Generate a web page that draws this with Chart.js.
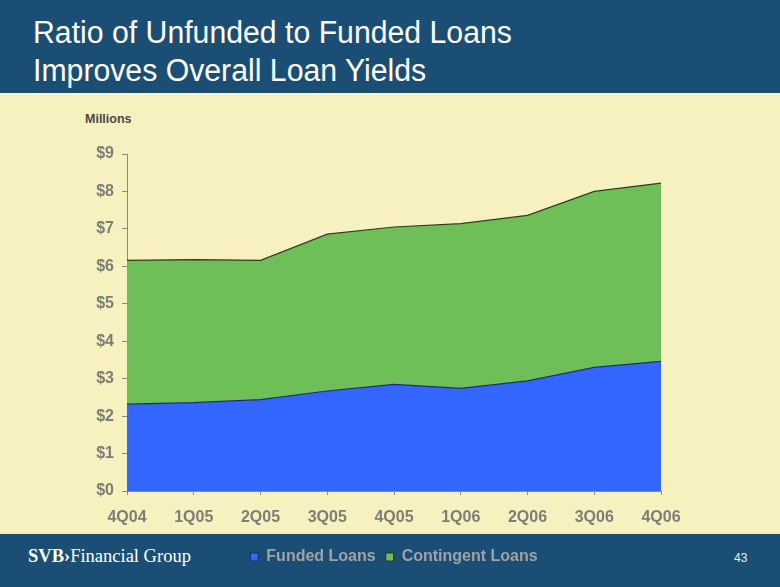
<!DOCTYPE html>
<html>
<head>
<meta charset="utf-8">
<script src="https://cdn.jsdelivr.net/npm/chart.js@4.4.1/dist/chart.umd.min.js"></script>
<style>
  html, body { margin: 0; padding: 0; }
  body { width: 780px; height: 587px; position: relative; overflow: hidden; background: #F7F0BF; font-family: 'Liberation Sans', Arial, sans-serif; }
  .header { position: absolute; left: 0; top: 0; width: 780px; height: 93px; background: #1B4E75; border-bottom: 2px solid #FCF8DC; }
  .header h1 { margin: 0; position: absolute; left: 33px; top: 14px; color: #fff; font-weight: normal; font-size: 31px; line-height: 38px; transform: scaleX(0.975); transform-origin: left top; white-space: nowrap; }
  .footer { position: absolute; left: 0; top: 533px; width: 780px; height: 54px; background: #1B4E75; border-top: 1px solid #E9E6C4; }
  .logo { position: absolute; left: 28px; top: 12px; color: #fff; font-family: 'Liberation Serif', 'Times New Roman', serif; font-size: 18.5px; }
  .logo b { font-weight: 600; }
  .pageno { position: absolute; left: 734px; top: 17px; color: #E8ECEF; font-size: 12px; }
  .units { position: absolute; left: 85px; top: 112px; color: #4A4A42; font-size: 12.5px; font-weight: bold; }
  canvas { position: absolute; left: 0; top: 0; }
</style>
</head>
<body>
<div class="header"><h1>Ratio of Unfunded to Funded Loans<br>Improves Overall Loan Yields</h1></div>
<div class="footer">
  <div class="logo"><b>SVB›</b>Financial Group</div>
  <div class="pageno">43</div>
</div>
<div class="units">Millions</div>
<canvas id="chart" width="780" height="587"></canvas>
<script>
// quarters on the x axis
const quarters = ['4Q04', '1Q05', '2Q05', '3Q05', '4Q05', '1Q06', '2Q06', '3Q06', '4Q06'];
// $ millions
const fundedLoans = [2.32, 2.36, 2.44, 2.67, 2.85, 2.74, 2.94, 3.30, 3.46];
const contingentLoans = [3.84, 3.82, 3.72, 4.19, 4.20, 4.40, 4.42, 4.70, 4.76];
const yTickValues = [0, 1, 2, 3, 4, 5, 6, 7, 8, 9];

const axisGray = '#8A8A80';
const labelFont = { family: "'Liberation Sans', Arial, sans-serif", size: 16, weight: 'bold' };

new Chart(document.getElementById('chart'), {
    type: 'line',
    data: {
        labels: quarters,
        datasets: [{
            label: 'Funded Loans',
            data: fundedLoans,
            backgroundColor: '#3366FF',
            borderColor: '#1C2F6A',
            borderWidth: 1.2,
            fill: 'origin',
            pointRadius: 0,
            tension: 0
        }, {
            label: 'Contingent Loans',
            data: contingentLoans,
            backgroundColor: '#6EBF57',
            borderColor: '#2D3D1E',
            borderWidth: 1.2,
            fill: '-1',
            pointRadius: 0,
            tension: 0
        }]
    },
    options: {
        responsive: false,
        animation: false,
        layout: { padding: { top: 154, left: 0, right: 119, bottom: 12 } },
        scales: {
            x: {
                offset: false,
                grid: { display: true, drawOnChartArea: false, tickLength: 4, color: axisGray },
                border: { color: axisGray, width: 1 },
                ticks: { color: '#7E7E76', font: labelFont, padding: 13, maxRotation: 0, autoSkip: false },
                afterFit: (scale) => { scale.height = 48; }
            },
            y: {
                stacked: true,
                min: 0,
                max: 9,
                afterBuildTicks: (scale) => { scale.ticks = yTickValues.map(v => ({ value: v })); },
                grid: { display: true, drawOnChartArea: false, tickLength: 5, color: axisGray },
                border: { color: axisGray, width: 1 },
                ticks: { color: '#7E7E76', font: labelFont, padding: 8, callback: (v) => '$' + v },
                afterFit: (scale) => { scale.width = 127; }
            }
        },
        plugins: {
            legend: {
                position: 'bottom',
                fullSize: false,
                labels: {
                    color: '#9EA3A6',
                    font: { family: "'Liberation Sans', Arial, sans-serif", size: 16, weight: 'bold' },
                    boxWidth: 8,
                    boxHeight: 8,
                    padding: 10
                }
            },
            tooltip: { enabled: false }
        }
    }
});
</script>
</body>
</html>
